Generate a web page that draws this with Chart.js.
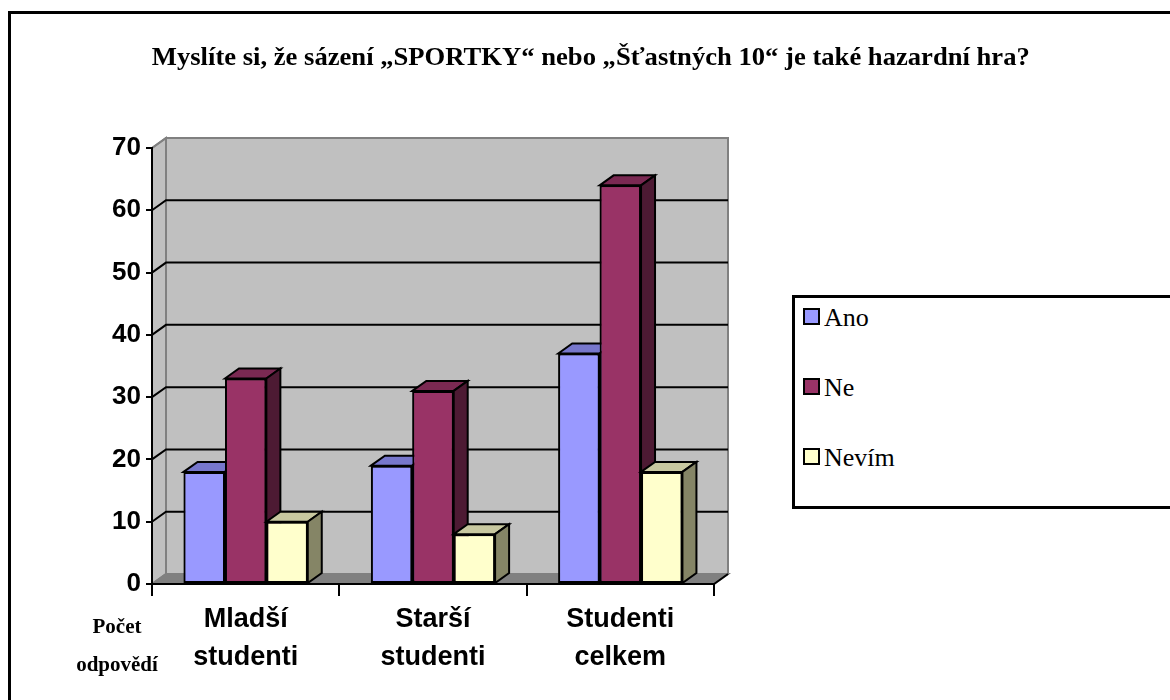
<!DOCTYPE html>
<html>
<head>
<meta charset="utf-8">
<script src="https://cdn.jsdelivr.net/npm/chart.js@4/dist/chart.umd.min.js"></script>
<style>
  body { margin: 0; background: #fff; }
  #wrap { position: relative; width: 1170px; height: 700px; overflow: hidden; }
  #frame { position: absolute; left: 8px; top: 11px; width: 1300px; height: 800px;
           border-left: 3px solid #000; border-top: 3px solid #000; }
  #title { position: absolute; left: 0; top: 40px; width: 1182px; text-align: center; white-space: nowrap;
           font-family: 'Liberation Serif', serif; font-weight: bold; font-size: 26px; line-height: 34px; }
  #title span { display: inline-block; transform-origin: center; }
  #legend { position: absolute; left: 792px; top: 295px; width: 420px; height: 208px;
            border: 3px solid #000; background: #fff; font-family: 'Liberation Serif', serif; font-size: 26px; }
  .item { position: absolute; left: 8px; display: flex; align-items: center; height: 30px; }
  .box { width: 13px; height: 13px; border: 2px solid #000; margin-right: 4px; margin-top: -3px; }
  #ytitle { position: absolute; left: 57px; top: 607px; width: 120px; text-align: center;
            font-family: 'Liberation Serif', serif; font-weight: bold; font-size: 21px; line-height: 38px; }
  canvas { position: absolute; left: 0; top: 0; }
</style>
</head>
<body>
<div id="wrap">
  <div id="frame"></div>
  <canvas id="chart" width="1170" height="700"></canvas>
  <div id="title"><span id="titleText"></span></div>
  <div id="legend"></div>
  <div id="ytitle">Počet<br>odpovědí</div>
</div>
<script>
const title = 'Myslíte si, že sázení „SPORTKY“ nebo „Šťastných 10“ je také hazardní hra?';
const categories = [['Mladší', 'studenti'], ['Starší', 'studenti'], ['Studenti', 'celkem']];
const seriesNames = ['Ano', 'Ne', 'Nevím'];
const ano = [18, 19, 37];
const ne = [33, 31, 64];
const nevim = [10, 8, 18];
const yTicks = [0, 10, 20, 30, 40, 50, 60, 70];

const fronts = ['#9999FF', '#993366', '#FFFFCC'];
const tops = ['#7777CC', '#7A2952', '#C8C8A0'];
const sides = ['#4D4D80', '#4D1A33', '#858566'];

const DX = 14, DY = -10;

function poly(ctx, pts, fill, stroke, lw) {
  ctx.beginPath();
  ctx.moveTo(pts[0][0], pts[0][1]);
  for (let i = 1; i < pts.length; i++) ctx.lineTo(pts[i][0], pts[i][1]);
  ctx.closePath();
  if (fill) { ctx.fillStyle = fill; ctx.fill(); }
  if (stroke) { ctx.strokeStyle = stroke; ctx.lineWidth = lw || 2; ctx.lineJoin = 'miter'; ctx.stroke(); }
}

// walls, floor and gridlines of the 3D box
const walls = {
  id: 'walls',
  beforeDraw(chart) {
    const { ctx, chartArea: a, scales: { y } } = chart;
    const L = a.left, R = a.right, T = a.top, B = a.bottom;
    ctx.save();
    poly(ctx, [[L, T], [L + DX, T + DY], [L + DX, B + DY], [L, B]], '#C0C0C0', '#808080', 2);
    poly(ctx, [[L + DX, T + DY], [R + DX, T + DY], [R + DX, B + DY], [L + DX, B + DY]], '#C0C0C0', '#808080', 2);
    poly(ctx, [[L, B], [L + DX, B + DY], [R + DX, B + DY], [R, B]], '#808080', '#808080', 2);
    yTicks.forEach(v => {
      if (v === 0) return;
      const py = y.getPixelForValue(v);
      ctx.beginPath();
      ctx.moveTo(L, py);
      ctx.lineTo(L + DX, py + DY);
      if (v < y.max) ctx.lineTo(R + DX, py + DY);
      ctx.strokeStyle = v < y.max ? '#000' : '#808080';
      ctx.lineWidth = 2;
      ctx.stroke();
    });
    ctx.beginPath();
    ctx.moveTo(R, B);
    ctx.lineTo(R + DX, B + DY);
    ctx.strokeStyle = '#000';
    ctx.stroke();
    ctx.restore();
  }
};

// redraw bars left to right with their top and side faces, so each bar hides the side of its left neighbour
const bars3d = {
  id: 'bars3d',
  afterDatasetsDraw(chart) {
    const ctx = chart.ctx;
    ctx.save();
    chart.data.datasets.forEach((ds, i) => {
      chart.getDatasetMeta(i).data.forEach(el => {
        el.draw(ctx, chart.chartArea);
        const p = el.getProps(['x', 'y', 'base', 'width'], true);
        const l = p.x - p.width / 2, r = p.x + p.width / 2;
        poly(ctx, [[l, p.y], [l + DX, p.y + DY], [r + DX, p.y + DY], [r, p.y]], tops[i], '#000', 2);
        poly(ctx, [[r, p.y], [r + DX, p.y + DY], [r + DX, p.base + DY], [r, p.base]], sides[i], '#000', 2);
      });
    });
    ctx.restore();
  }
};

const seriesData = [ano, ne, nevim];

new Chart(document.getElementById('chart'), {
  type: 'bar',
  data: {
    labels: categories,
    datasets: seriesNames.map((name, i) => ({
      label: name,
      data: seriesData[i],
      backgroundColor: fronts[i],
      borderColor: '#000',
      borderWidth: 2,
      borderSkipped: false,
      categoryPercentage: 0.663,
      barPercentage: 1.0,
    })),
  },
  options: {
    responsive: false,
    animation: false,
    layout: { padding: { left: 0, right: 456, top: 148, bottom: 0 } },
    plugins: {
      legend: { display: false },
      tooltip: { enabled: false },
    },
    scales: {
      x: {
        afterFit: s => { s.height = 116; },
        grid: { display: true, offset: true, drawOnChartArea: false, drawTicks: true, tickLength: 12, color: '#000', lineWidth: 2 },
        border: { display: true, color: '#000', width: 2 },
        ticks: { color: '#000', padding: 5, font: { family: 'Liberation Sans', weight: 'bold', size: 27, lineHeight: 1.4 } },
      },
      y: {
        min: 0,
        max: 70,
        afterFit: s => { s.width = 152; },
        afterBuildTicks: s => { s.ticks = yTicks.map(v => ({ value: v })); },
        grid: { display: true, drawOnChartArea: false, drawTicks: true, tickLength: 6, color: '#000', lineWidth: 2 },
        border: { display: true, color: '#000', width: 2 },
        ticks: { color: '#000', padding: 5, font: { family: 'Liberation Sans', weight: 'bold', size: 26 } },
      },
    },
  },
  plugins: [walls, bars3d],
});

// title, stretched to the width it has in the original
const tt = document.getElementById('titleText');
tt.textContent = title;
tt.style.transform = 'scaleX(' + (878 / tt.getBoundingClientRect().width) + ')';

// legend built from the same arrays
const legend = document.getElementById('legend');
seriesNames.forEach((name, i) => {
  const row = document.createElement('div');
  row.className = 'item';
  row.style.top = (5 + i * 70) + 'px';
  const box = document.createElement('span');
  box.className = 'box';
  box.style.background = fronts[i];
  const txt = document.createElement('span');
  txt.textContent = name;
  row.appendChild(box);
  row.appendChild(txt);
  legend.appendChild(row);
});
</script>
</body>
</html>
